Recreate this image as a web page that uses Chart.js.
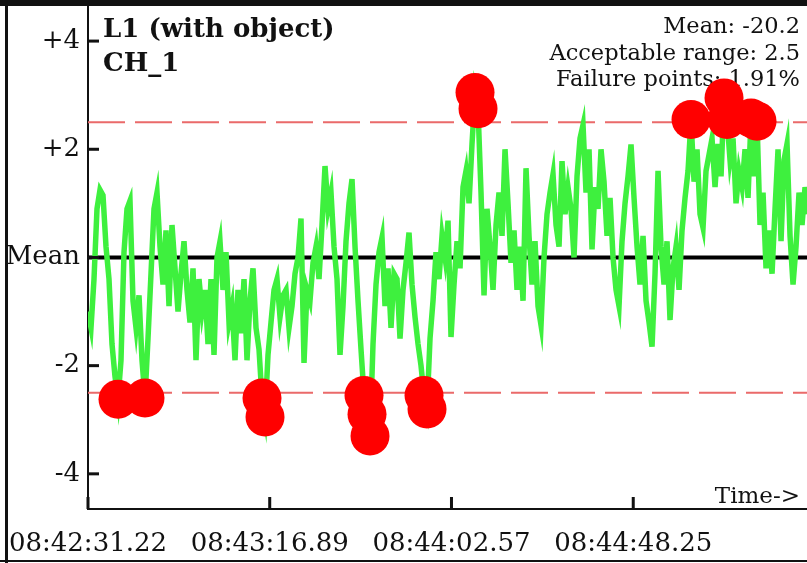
<!DOCTYPE html>
<html>
<head>
<meta charset="utf-8">
<script src="https://cdn.jsdelivr.net/npm/chart.js@4.4.0/dist/chart.umd.min.js"></script>
<style>
  html, body { margin: 0; padding: 0; background: #fff; }
  #wrap { width: 807px; height: 563px; }
</style>
</head>
<body>
<div id="wrap"><canvas id="chart" width="807" height="563"></canvas></div>
<script>
// deviation from mean, one sample every SAMPLE_DT seconds
const values = [
  -1.0, -1.3, -0.4, 0.9, 1.25, 1.15, 0.2, -0.4, -1.6, -2.2,
  -2.62, -1.9, 0.1, 0.9, 1.05, -0.8, -1.3, -0.7, -1.9, -2.6,
  -1.5, -0.3, 0.9, 1.2, 0.2, -0.5, 0.5, -0.9, 0.6, -0.2,
  -1.0, -0.3, 0.3, -0.6, -1.2, -0.2, -1.9, -0.4, -1.0, -0.6,
  -1.6, -0.4, -1.8, 0.0, 0.3, -0.6, 0.1, -1.2, -0.9, -1.9,
  -0.6, -1.4, -0.4, -1.9, -0.8, -0.2, -1.3, -1.7, -2.6, -2.95,
  -1.8, -1.2, -0.6, -0.4, -1.1, -0.7, -0.6, -1.3, -0.9, -0.3,
  0.0, 0.72, -1.95, -0.6, -0.8, -0.1, 0.2, -0.4, 0.6, 1.69,
  0.9, 1.2, 0.2, -0.4, -1.8, -0.9, 0.3, 1.0, 1.45, 0.2,
  -0.8, -1.7, -2.55, -2.9, -3.3, -1.6, -0.5, 0.1, 0.37, -0.9,
  -0.2, -1.3, -0.3, -0.4, -1.5, -0.6, -0.1, 0.46, -0.5, -1.1,
  -1.6, -2.0, -2.55, -2.8, -1.5, -0.8, 0.1, -0.4, 0.4, 0.0,
  0.68, -1.47, -0.5, 0.3, -0.2, 1.3, 1.6, 1.0, 2.1, 3.05,
  2.75, 1.2, -0.7, 0.9, 0.2, -0.6, 0.6, 1.2, 0.4, 2.0,
  1.0, -0.1, 0.5, -0.6, 0.2, -0.8, 1.65, 0.4, -0.5, 0.3,
  -0.9, -1.25, 0.0, 0.8, 1.2, 1.54, 0.6, 0.2, 1.78, 0.8,
  1.3, 0.9, 0.0, 1.5, 2.2, 2.45, 1.2, 2.0, 0.15, 1.3,
  0.9, 2.0, 1.4, 0.4, 1.1, 0.0, -0.6, -0.9, 0.3, 1.0,
  1.5, 2.09, 1.1, 0.2, -0.5, 0.4, -0.8, -1.2, -1.65, -0.3,
  1.6, 0.2, -0.5, 0.3, -1.16, -0.2, 0.2, -0.6, 0.5, 1.1,
  1.6, 2.55, 1.4, 2.0, 0.8, 0.55, 1.6, 1.9, 2.2, 1.3,
  2.1, 1.5, 2.95, 2.55, 1.8, 2.2, 1.0, 1.6, 1.3, 2.0,
  1.1, 2.58, 1.5, 2.52, 0.6, 1.2, -0.2, 0.5, -0.3, 0.9,
  2.0, 0.3, 1.8, 2.1, 0.4, -0.5, 0.2, 1.2, 0.6, 1.3,
  0.8
];
const SAMPLE_DT = 0.754;
const LIMIT = 2.5;

const tickTimes = [0, 45.67, 91.35, 137.03];
const tickLabels = ['08:42:31.22', '08:43:16.89', '08:44:02.57', '08:44:48.25'];
const yTickValues = [4, 2, 0, -2, -4];
const yTickLabels = ['+4', '+2', 'Mean', '-2', '-4'];

const titleLines = ['L1 (with object)', 'CH_1'];
const statsLines = ['Mean: -20.2', 'Acceptable range: 2.5', 'Failure points: 1.91%'];
const axisNote = 'Time->';

const X_MAX = 180.7;
const SERIF = "'DejaVu Serif', serif";

const series = values.map((v, i) => ({ x: i * SAMPLE_DT, y: v }));
const failures = series.filter(p => Math.abs(p.y) > LIMIT);

const overlay = {
  id: 'overlay',
  beforeDatasetsDraw(chart) {
    const ctx = chart.ctx;
    ctx.save();
    ctx.fillStyle = '#111';
    ctx.textBaseline = 'alphabetic';
    ctx.font = 'bold 26px ' + SERIF;
    ctx.textAlign = 'left';
    ctx.fillText(titleLines[0], 103, 37);
    ctx.fillText(titleLines[1], 103, 71);
    ctx.font = '22.5px ' + SERIF;
    ctx.textAlign = 'right';
    statsLines.forEach((t, i) => ctx.fillText(t, 800, 33 + i * 26.5));
    ctx.font = '23px ' + SERIF;
    ctx.fillText(axisNote, 800, 503);
    ctx.restore();
  },
  afterDatasetsDraw(chart) {
    const ctx = chart.ctx;
    const { x, y } = chart.scales;
    const area = chart.chartArea;
    ctx.save();
    ctx.fillStyle = '#111';
    yTickValues.forEach(v => {
      const py = y.getPixelForValue(v);
      ctx.fillRect(area.left, py - 1.5, 11, 3);
    });
    tickTimes.forEach(t => {
      const px = x.getPixelForValue(t);
      ctx.fillRect(px - 1.5, area.bottom - 12, 3, 12);
    });
    ctx.restore();
  },
  afterDraw(chart) {
    const ctx = chart.ctx;
    ctx.save();
    ctx.fillStyle = '#111';
    ctx.fillRect(0, 0, 807, 6);
    ctx.fillRect(5, 0, 3, 563);
    ctx.fillRect(0, 560, 807, 2);
    ctx.restore();
  }
};

new Chart(document.getElementById('chart'), {
  type: 'line',
  data: {
    datasets: [
      {
        type: 'scatter',
        data: failures,
        backgroundColor: '#ff0000',
        borderWidth: 0,
        pointRadius: 19.5,
        order: 0
      },
      {
        data: series,
        borderColor: '#3ef03e',
        borderWidth: 5.5,
        pointRadius: 0,
        tension: 0,
        order: 1
      },
      {
        data: [{ x: 0, y: 0 }, { x: X_MAX, y: 0 }],
        borderColor: '#000',
        borderWidth: 4,
        pointRadius: 0,
        order: 2
      },
      {
        data: [{ x: 0, y: LIMIT }, { x: X_MAX, y: LIMIT }],
        borderColor: '#ea6a6a',
        borderWidth: 2,
        borderDash: [37, 10],
        pointRadius: 0,
        order: 3
      },
      {
        data: [{ x: 0, y: -LIMIT }, { x: X_MAX, y: -LIMIT }],
        borderColor: '#ea6a6a',
        borderWidth: 2,
        borderDash: [37, 10],
        pointRadius: 0,
        order: 3
      }
    ]
  },
  options: {
    responsive: false,
    devicePixelRatio: 1,
    animation: false,
    layout: { autoPadding: false, padding: { top: 7, left: 0, right: 0, bottom: 0 } },
    plugins: {
      legend: { display: false },
      tooltip: { enabled: false }
    },
    scales: {
      x: {
        type: 'linear',
        min: 0,
        max: X_MAX,
        afterFit: s => { s.height = 54; s.paddingLeft = 0; s.paddingRight = 0; },
        afterBuildTicks: s => { s.ticks = tickTimes.map(v => ({ value: v })); },
        grid: { display: false, drawTicks: false },
        border: { display: true, color: '#111', width: 2 },
        ticks: {
          autoSkip: false,
          maxRotation: 0,
          padding: 20,
          color: '#111',
          font: { family: SERIF, size: 26 },
          callback: v => tickLabels[tickTimes.indexOf(v)]
        }
      },
      y: {
        min: -4.65,
        max: 4.63,
        afterFit: s => { s.width = 88; s.paddingTop = 0; s.paddingBottom = 0; },
        afterBuildTicks: s => { s.ticks = yTickValues.map(v => ({ value: v })); },
        grid: { display: false, drawTicks: false },
        border: { display: true, color: '#111', width: 2 },
        ticks: {
          padding: 8,
          color: '#111',
          font: { family: SERIF, size: 26 },
          callback: v => yTickLabels[yTickValues.indexOf(v)]
        }
      }
    }
  },
  plugins: [overlay]
});
</script>
</body>
</html>
